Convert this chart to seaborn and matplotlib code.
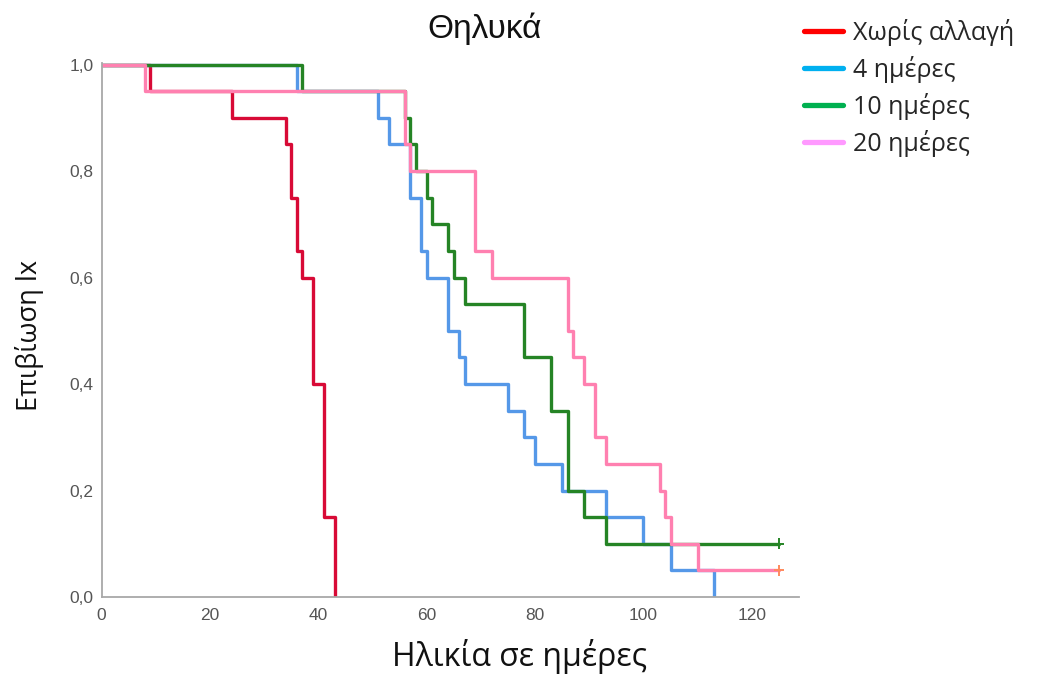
import matplotlib
matplotlib.use("Agg")
import matplotlib.pyplot as plt
from matplotlib.lines import Line2D
import seaborn as sns
import pandas as pd

# ---- data ----
groups = ["Χωρίς αλλαγή", "4 ημέρες", "10 ημέρες", "20 ημέρες"]

red_t = [0, 9, 24, 34, 35, 36, 37, 39, 41, 43]
red_s = [1.00, 0.95, 0.90, 0.85, 0.75, 0.65, 0.60, 0.40, 0.15, 0.00]

blue_t = [0, 36, 51, 53, 57, 59, 60, 64, 66, 67, 75, 78, 80, 85, 93, 100, 105, 113]
blue_s = [1.00, 0.95, 0.90, 0.85, 0.75, 0.65, 0.60, 0.50, 0.45, 0.40, 0.35, 0.30,
          0.25, 0.20, 0.15, 0.10, 0.05, 0.00]

green_t = [0, 37, 56, 57, 58, 60, 61, 64, 65, 67, 78, 83, 86, 89, 93, 125]
green_s = [1.00, 0.95, 0.90, 0.85, 0.80, 0.75, 0.70, 0.65, 0.60, 0.55, 0.45, 0.35,
           0.20, 0.15, 0.10, 0.10]

pink_t = [0, 8, 56, 57, 69, 72, 86, 87, 89, 91, 93, 103, 104, 105, 110, 125]
pink_s = [1.00, 0.95, 0.85, 0.80, 0.65, 0.60, 0.50, 0.45, 0.40, 0.30, 0.25, 0.20,
          0.15, 0.10, 0.05, 0.05]

censor_group = ["10 ημέρες", "20 ημέρες"]
censor_t = [125, 125]
censor_s = [0.10, 0.05]

y_ticks = [0.0, 0.2, 0.4, 0.6, 0.8, 1.0]
y_tick_labels = ["0,0", "0,2", "0,4", "0,6", "0,8", "1,0"]
x_ticks = [0, 20, 40, 60, 80, 100, 120]
x_tick_labels = ["0", "20", "40", "60", "80", "100", "120"]

title = "Θηλυκά"
x_label = "Ηλικία σε ημέρες"
y_label = "Επιβίωση lx"

# ---- styling ----
line_colors = {"Χωρίς αλλαγή": "#d80a36", "4 ημέρες": "#5598e8",
               "10 ημέρες": "#258425", "20 ημέρες": "#ff80b0"}
legend_colors = ["#ff0000", "#00b0f0", "#00b050", "#ff99ff"]
censor_colors = {"10 ημέρες": "#258425", "20 ημέρες": "#ff8a5c"}

sns.set_theme(style="white")
plt.rcParams["font.family"] = ["Liberation Sans", "DejaVu Sans"]

rows = []
for g, ts, ss in zip(groups, [red_t, blue_t, green_t, pink_t],
                     [red_s, blue_s, green_s, pink_s]):
    for t, s in zip(ts, ss):
        rows.append({"group": g, "t": t, "s": s})
df = pd.DataFrame(rows)
cdf = pd.DataFrame({"group": censor_group, "t": censor_t, "s": censor_s})

fig = plt.figure(figsize=(10.47, 6.78), dpi=100)
ax = fig.add_axes([0.0971, 0.1195, 0.6665, 0.7883])

for g in groups:
    sub = df[df["group"] == g]
    sns.lineplot(data=sub, x="t", y="s", color=line_colors[g], estimator=None,
                 sort=False, drawstyle="steps-post", linewidth=2.4, ax=ax,
                 legend=False)

sns.scatterplot(data=cdf, x="t", y="s", hue="group", palette=censor_colors,
                marker="+", s=60, linewidth=1.4, ax=ax, legend=False, zorder=5)

ax.set_xlim(0, 128.8)
ax.set_ylim(0, 1.004)
ax.set_xticks(x_ticks)
ax.set_xticklabels(x_tick_labels)
ax.set_yticks(y_ticks)
ax.set_yticklabels(y_tick_labels)
ax.tick_params(axis="both", length=0, labelsize=12.5, labelcolor="#555555")
ax.tick_params(axis="x", pad=8)
ax.tick_params(axis="y", pad=6)

for side in ["top", "right"]:
    ax.spines[side].set_visible(False)
for side in ["left", "bottom"]:
    ax.spines[side].set_color("#a8a8a8")
    ax.spines[side].set_linewidth(1.3)

label_font = ["Open Sans", "DejaVu Sans"]
ax.set_xlabel(x_label, fontsize=23, family=label_font, color="#111111")
ax.xaxis.label.set_va("center")
ax.xaxis.set_label_coords(0.599, -0.112)
ax.set_ylabel(y_label, fontsize=19.5, family=label_font, color="#111111")
ax.yaxis.label.set_va("center")
ax.yaxis.set_label_coords(-0.103, 0.49)

fig.text(0.4628, 0.958, title, fontsize=24, ha="center", va="center", color="#111111")

handles = [Line2D([0], [0], color=c, linewidth=3.8) for c in legend_colors]
fig.legend(handles, groups, loc="upper left", bbox_to_anchor=(0.768, 0.972),
           frameon=False, prop={"family": label_font, "size": 18},
           handlelength=1.55, handletextpad=0.4, labelspacing=0.4,
           borderaxespad=0, borderpad=0)

fig.savefig("out.png", dpi=100)
